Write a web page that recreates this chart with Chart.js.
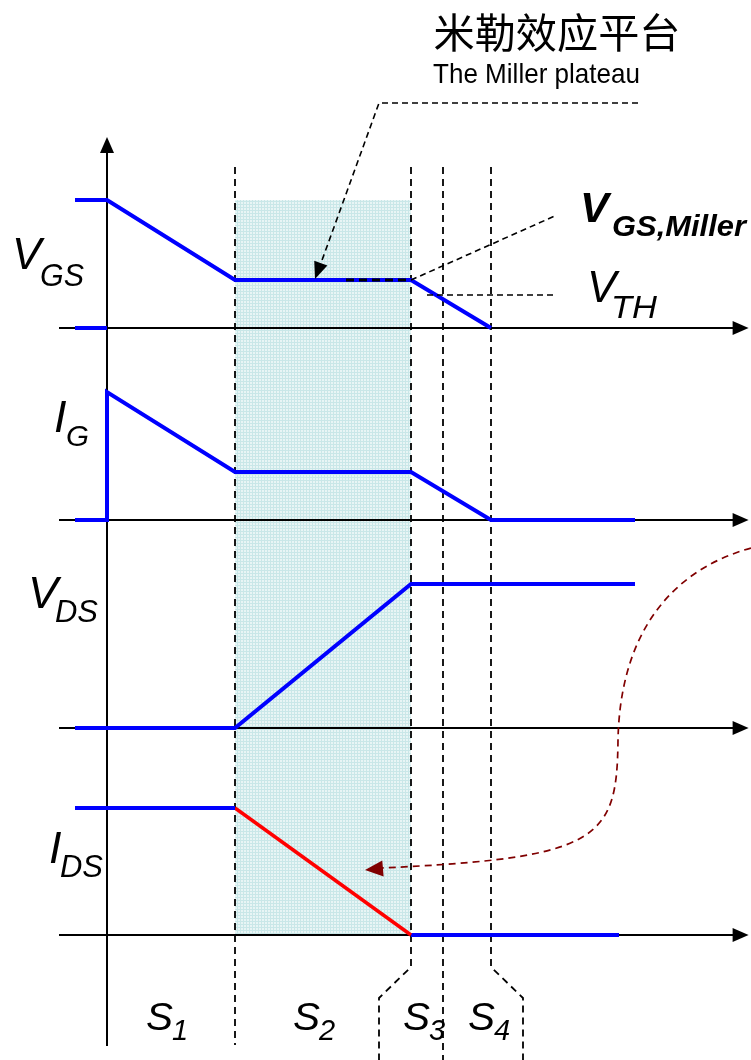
<!DOCTYPE html>
<html>
<head>
<meta charset="utf-8">
<title>Miller plateau</title>
<script src="https://cdn.jsdelivr.net/npm/chart.js@4.4.1/dist/chart.umd.min.js"></script>
<style>
html, body { margin: 0; padding: 0; background: #fff; }
#wrap { width: 751px; height: 1060px; position: relative; }
</style>
</head>
<body>
<div id="wrap"><canvas id="waveChart"></canvas></div>
<script>
// phase boundaries (time units, 0 = start of turn-off)
var phaseTimes = [4, 9.5, 10.5, 12];
var phaseLabels = ['1', '2', '3', '4'];

// waveforms: time / normalised level of each trace
var vgsTime = [-1, 0, 4, 9.5, 12];
var vgsLevel = [1, 1, 0.375, 0.375, 0];
var vgsLowTime = [-1, 0];
var vgsLowLevel = [0, 0];
var igTime = [-1, 0, 0, 4, 9.5, 12, 16.5];
var igLevel = [0, 0, 1, 0.375, 0.375, 0, 0];
var vdsTime = [-1, 4, 9.5, 16.5];
var vdsLevel = [0, 0, 1, 1];
var idsTime = [-1, 4];
var idsLevel = [1, 1];
var idsFallTime = [4, 9.5];
var idsFallLevel = [1, 0];
var idsOffTime = [9.5, 16];
var idsOffLevel = [0, 0];
var vthLevel = 0.258;

// layout: where each panel's zero sits and how tall one unit is (px)
var W = 751, H = 1060;
var panels = {
    yVgs: { base: 328, unit: 128 },
    yIg:  { base: 520, unit: 128 },
    yVds: { base: 728, unit: 144 },
    yIds: { base: 935, unit: 127 }
};
var pxPerT = 32, originPx = 107;

function line(t, v, axis, color, width) {
    return {
        data: t.map(function (x, i) { return { x: x, y: v[i] }; }),
        yAxisID: axis,
        showLine: true,
        borderColor: color,
        borderWidth: width || 4,
        pointRadius: 0,
        fill: false,
        tension: 0
    };
}

var scales = {
    x: { type: 'linear', display: false, min: -originPx / pxPerT, max: (W - originPx) / pxPerT },
    xPage: { type: 'linear', display: false, min: 0, max: W },
    yPage: { type: 'linear', display: false, min: 0, max: H, reverse: true }
};
Object.keys(panels).forEach(function (k) {
    var p = panels[k];
    scales[k] = { type: 'linear', display: false, min: -(H - p.base) / p.unit, max: p.base / p.unit };
});

// shaded plateau region pattern
function shadePattern(ctx) {
    var c = document.createElement('canvas');
    c.width = 3; c.height = 3;
    var g = c.getContext('2d');
    g.fillStyle = '#e8f5f5';
    g.fillRect(0, 0, 3, 3);
    g.fillStyle = '#c9e7e8';
    g.fillRect(0, 0, 3, 1);
    g.fillRect(0, 0, 1, 3);
    return ctx.createPattern(c, 'repeat');
}

function arrowHead(ctx, fx, fy, tx, ty, len, half, color) {
    var a = Math.atan2(ty - fy, tx - fx);
    ctx.save();
    ctx.fillStyle = color;
    ctx.beginPath();
    ctx.moveTo(tx, ty);
    ctx.lineTo(tx - len * Math.cos(a) + half * Math.sin(a), ty - len * Math.sin(a) - half * Math.cos(a));
    ctx.lineTo(tx - len * Math.cos(a) - half * Math.sin(a), ty - len * Math.sin(a) + half * Math.cos(a));
    ctx.closePath();
    ctx.fill();
    ctx.restore();
}

function text(ctx, s, x, y, font, w, align, base) {
    ctx.save();
    ctx.font = font;
    ctx.textAlign = 'left';
    ctx.textBaseline = base || 'alphabetic';
    var m = ctx.measureText(s).width;
    var sx = w ? w / m : 1;
    var left = align === 'center' ? x - m * sx / 2 : x;
    ctx.translate(left, y);
    ctx.scale(sx, 1);
    ctx.fillStyle = '#000';
    ctx.fillText(s, 0, 0);
    ctx.restore();
}

var diagramPlugin = {
    id: 'diagram',
    beforeDatasetsDraw: function (chart) {
        var ctx = chart.ctx, sx = chart.scales.x, px = chart.scales.xPage, py = chart.scales.yPage;
        var X = function (t) { return sx.getPixelForValue(t); };
        var P = function (v) { return py.getPixelForValue(v); };
        var PX = function (v) { return px.getPixelForValue(v); };

        // plateau shading between S2 boundaries
        ctx.save();
        ctx.fillStyle = shadePattern(ctx);
        ctx.fillRect(X(phaseTimes[0]), P(200), X(phaseTimes[1]) - X(phaseTimes[0]), P(935) - P(200));
        ctx.restore();

        // dashed phase boundaries
        ctx.save();
        ctx.strokeStyle = '#000';
        ctx.lineWidth = 1.8;
        ctx.setLineDash([7, 5]);
        var paths = [
            [[X(phaseTimes[0]), P(167)], [X(phaseTimes[0]), P(1045)]],
            [[X(phaseTimes[1]), P(167)], [X(phaseTimes[1]), P(967)], [PX(379), P(998)], [PX(379), P(1060)]],
            [[X(phaseTimes[2]), P(167)], [X(phaseTimes[2]), P(1060)]],
            [[X(phaseTimes[3]), P(167)], [X(phaseTimes[3]), P(967)], [PX(523), P(998)], [PX(523), P(1060)]]
        ];
        paths.forEach(function (pts) {
            ctx.beginPath();
            pts.forEach(function (p, i) { if (i) ctx.lineTo(p[0], p[1]); else ctx.moveTo(p[0], p[1]); });
            ctx.stroke();
        });
        ctx.restore();

        // axes with arrowheads
        ctx.save();
        ctx.strokeStyle = '#000';
        ctx.lineWidth = 2;
        Object.keys(panels).forEach(function (k) {
            var y = chart.scales[k].getPixelForValue(0);
            ctx.beginPath();
            ctx.moveTo(X(-1.5), y);
            ctx.lineTo(X(19.6), y);
            ctx.stroke();
            arrowHead(ctx, X(0), y, X(20.05), y, 16, 7, '#000');
        });
        ctx.beginPath();
        ctx.moveTo(X(0), P(1046));
        ctx.lineTo(X(0), P(148));
        ctx.stroke();
        arrowHead(ctx, X(0), P(400), X(0), P(137), 16, 7, '#000');
        ctx.restore();
    },
    afterDatasetsDraw: function (chart) {
        var ctx = chart.ctx, sx = chart.scales.x, px = chart.scales.xPage, py = chart.scales.yPage;
        var X = function (t) { return sx.getPixelForValue(t); };
        var P = function (v) { return py.getPixelForValue(v); };
        var PX = function (v) { return px.getPixelForValue(v); };
        var yV = chart.scales.yVgs;
        var plateauY = yV.getPixelForValue(vgsLevel[2]);
        var vthY = yV.getPixelForValue(vthLevel);

        ctx.save();
        ctx.strokeStyle = '#000';
        ctx.lineWidth = 1.6;
        ctx.setLineDash([6, 4]);
        // Miller plateau leader
        ctx.beginPath();
        ctx.moveTo(PX(638), P(103));
        ctx.lineTo(PX(379), P(103));
        ctx.lineTo(PX(321), P(263));
        ctx.stroke();
        // V_GS,Miller leader
        ctx.beginPath();
        ctx.moveTo(X(phaseTimes[1]), plateauY);
        ctx.lineTo(PX(557), P(215));
        ctx.stroke();
        // V_TH leader
        ctx.beginPath();
        ctx.moveTo(PX(427), vthY);
        ctx.lineTo(PX(557), vthY);
        ctx.stroke();
        // dashed over the plateau
        ctx.lineWidth = 3;
        ctx.setLineDash([8, 5]);
        ctx.beginPath();
        ctx.moveTo(PX(346), plateauY);
        ctx.lineTo(X(phaseTimes[1]), plateauY);
        ctx.stroke();
        ctx.restore();
        arrowHead(ctx, PX(379), P(103), PX(315), P(279), 17, 7, '#000');

        // curved arrow from V_DS rise to I_DS fall
        ctx.save();
        ctx.strokeStyle = '#800000';
        ctx.lineWidth = 1.7;
        ctx.setLineDash([7, 5]);
        ctx.beginPath();
        ctx.moveTo(PX(751), P(548));
        ctx.bezierCurveTo(PX(665), P(572), PX(620), P(640), PX(618), P(740));
        ctx.bezierCurveTo(PX(617), P(840), PX(600), P(858), PX(381), P(868));
        ctx.stroke();
        ctx.restore();
        arrowHead(ctx, PX(395), P(867.5), PX(365), P(870), 18, 8, '#800000');

        // labels
        var ff = '"Liberation Sans", Arial, sans-serif';
        text(ctx, '\u7c73\u52d2\u6548\u5e94\u5e73\u53f0', PX(557), P(32), '41px "Noto Sans CJK SC"', 247, 'center', 'middle');
        text(ctx, 'The Miller plateau', PX(433), P(83), '28px ' + ff, 207);

        text(ctx, 'V', PX(12), P(269), 'italic 44px ' + ff);
        text(ctx, 'GS', PX(40), P(286), 'italic 31px ' + ff, 44);
        text(ctx, 'I', PX(54), P(432), 'italic 45px ' + ff);
        text(ctx, 'G', PX(66), P(446), 'italic 30px ' + ff, 23);
        text(ctx, 'V', PX(28), P(608), 'italic 45px ' + ff);
        text(ctx, 'DS', PX(55), P(622), 'italic 32px ' + ff, 43);
        text(ctx, 'I', PX(49), P(863), 'italic 45px ' + ff);
        text(ctx, 'DS', PX(60), P(877), 'italic 32px ' + ff, 43);
        text(ctx, 'V', PX(587), P(302), 'italic 44px ' + ff);
        text(ctx, 'TH', PX(611), P(318), 'italic 31px ' + ff, 46);
        text(ctx, 'V', PX(580), P(222), 'bold italic 43px ' + ff);
        text(ctx, 'GS,Miller', PX(612), P(236), 'bold italic 30px ' + ff, 134);

        var sPos = [146, 293, 403, 468];
        phaseLabels.forEach(function (n, i) {
            text(ctx, 'S', PX(sPos[i]), P(1030), 'italic 38px ' + ff, 27);
            text(ctx, n, PX(sPos[i] + 26), P(1040), 'italic 29px ' + ff);
        });
    }
};

var ctx = document.getElementById('waveChart').getContext('2d');
var waveChart = new Chart(ctx, {
    type: 'scatter',
    data: {
        datasets: [
            line(vgsTime, vgsLevel, 'yVgs', '#0000ff'),
            line(vgsLowTime, vgsLowLevel, 'yVgs', '#0000ff'),
            line(igTime, igLevel, 'yIg', '#0000ff'),
            line(vdsTime, vdsLevel, 'yVds', '#0000ff'),
            line(idsTime, idsLevel, 'yIds', '#0000ff'),
            line(idsFallTime, idsFallLevel, 'yIds', '#ff0000', 3.5),
            line(idsOffTime, idsOffLevel, 'yIds', '#0000ff')
        ]
    },
    options: {
        responsive: true,
        maintainAspectRatio: false,
        animation: false,
        events: [],
        layout: { padding: 0 },
        plugins: { legend: { display: false }, tooltip: { enabled: false } },
        scales: scales
    },
    plugins: [diagramPlugin]
});
</script>
</body>
</html>
